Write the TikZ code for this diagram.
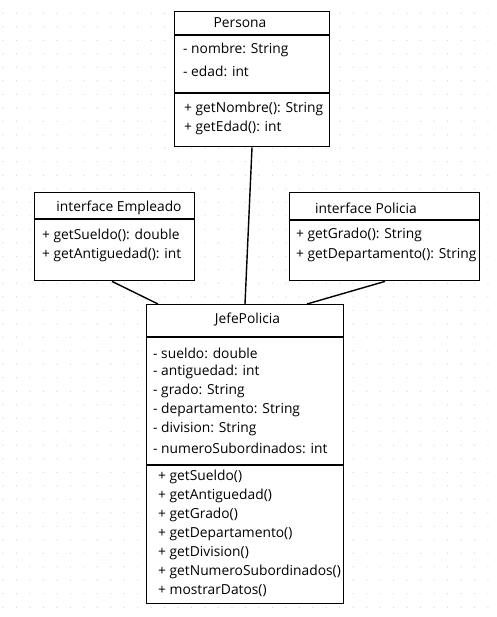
\documentclass[tikz,border=0pt]{standalone}
\usepackage{fontspec}
\setmainfont{Open Sans}
\usetikzlibrary{positioning,calc}

\tikzset{
  umlbox/.style={draw, line width=1.4pt, rectangle, inner sep=0pt, anchor=north west},
  sep/.style={line width=1.4pt},
  member/.style={anchor=west, inner sep=0pt, font=\fontsize{13.8}{16}\selectfont},
  title/.style={inner sep=0pt, font=\fontsize{13.8}{16}\selectfont},
  link/.style={line width=1.4pt},
  griddot/.style={fill=black!18}
}

\begin{document}
\begin{tikzpicture}[x=1pt,y=-1pt]
    \useasboundingbox (0,0) rectangle (496,617);
    \fill[white] (0,0) rectangle (496,617);

    % Background dots
    \foreach \i in {0,...,36}
      \foreach \j in {0,...,44}
        \fill[griddot] (3+13.47*\i,13.3+13.5*\j) circle (0.6pt);

    % Persona
    \node[umlbox, minimum width=155pt, minimum height=135pt, fill=white] (persona) at (174,11) {};
    \draw[sep] ($(persona.north west)+(0,24)$) -- ($(persona.north east)+(0,24)$);
    \draw[sep] ($(persona.north west)+(0,82)$) -- ($(persona.north east)+(0,82)$);
    \node[title] (personaT) at (240,23) {Persona};
    \node[member] (pa1) at (183,50) {- nombre: String};
    \node[member] (pa2) at (183,71) {- edad: int};
    \node[member] (pm1) at (184,109) {+ getNombre(): String};
    \node[member] (pm2) at (184,128) {+ getEdad(): int};

    % interface Empleado
    \node[umlbox, minimum width=160pt, minimum height=88pt, fill=white] (empleado) at (34,192) {};
    \draw[sep] ($(empleado.north west)+(0,27)$) -- ($(empleado.north east)+(0,27)$);
    \node[title] (empleadoT) at (119,208) {interface Empleado};
    \node[member] (em1) at (42,236) {+ getSueldo(): double};
    \node[member] (em2) at (42,255) {+ getAntiguedad(): int};

    % interface Policia
    \node[umlbox, minimum width=190pt, minimum height=88pt, fill=white] (policia) at (289,192) {};
    \draw[sep] ($(policia.north west)+(0,28)$) -- ($(policia.north east)+(0,28)$);
    \node[title] (policiaT) at (366,208) {interface Policia};
    \node[member] (po1) at (296,235) {+ getGrado(): String};
    \node[member] (po2) at (296,255) {+ getDepartamento(): String};

    % JefePolicia
    \node[umlbox, minimum width=197pt, minimum height=299pt, fill=white] (jefe) at (146,304) {};
    \draw[sep] ($(jefe.north west)+(0,33)$) -- ($(jefe.north east)+(0,33)$);
    \draw[sep] ($(jefe.north west)+(0,161)$) -- ($(jefe.north east)+(0,161)$);
    \node[title] (jefeT) at (247.5,320) {JefePolicia};
    \node[member] (ja1) at (153,353) {- sueldo: double};
    \node[member] (ja2) at (153,372) {- antiguedad: int};
    \node[member] (ja3) at (153,391) {- grado: String};
    \node[member] (ja4) at (153,410) {- departamento: String};
    \node[member] (ja5) at (153,429) {- division: String};
    \node[member] (ja6) at (153,448) {- numeroSubordinados: int};
    \node[member] (jm1) at (158,477) {+ getSueldo()};
    \node[member] (jm2) at (158,496) {+ getAntiguedad()};
    \node[member] (jm3) at (158,515) {+ getGrado()};
    \node[member] (jm4) at (158,534) {+ getDepartamento()};
    \node[member] (jm5) at (158,553) {+ getDivision()};
    \node[member] (jm6) at (158,572) {+ getNumeroSubordinados()};
    \node[member] (jm7) at (158,591) {+ mostrarDatos()};

    % Connectors
    \coordinate (pBot) at ($(persona.south west)+(78,0)$);
    \coordinate (jTopP) at ($(jefe.north west)+(99,0)$);
    \coordinate (eBot) at ($(empleado.south west)+(78,0)$);
    \coordinate (jTopE) at ($(jefe.north west)+(12,0)$);
    \coordinate (oBot) at ($(policia.south west)+(96,0)$);
    \coordinate (jTopO) at ($(jefe.north west)+(161,0)$);
    \draw[link] (pBot) -- (jTopP);
    \draw[link] (eBot) -- (jTopE);
    \draw[link] (oBot) -- (jTopO);
\end{tikzpicture}
\end{document}
